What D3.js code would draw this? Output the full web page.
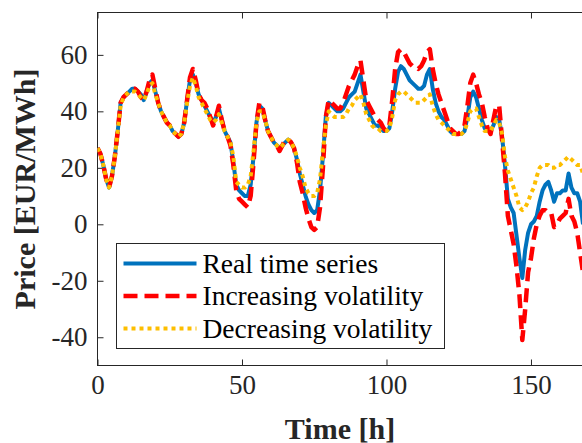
<!DOCTYPE html>
<html>
<head>
<meta charset="utf-8">
<script src="https://cdn.jsdelivr.net/npm/d3@7"></script>
<style>
  body { margin: 0; background: #fff; }
</style>
</head>
<body>
<div id="chart"></div>
<script>
// hourly prices, h = 0..168
const realSeries = [
  27, 25, 21, 16, 13, 17, 24, 33, 43, 45,
  46, 47, 48, 48, 47, 46, 44, 47, 50, 51,
  47, 43, 40, 38, 36, 35, 33, 32, 31, 32,
  36, 44, 51, 53, 50, 46, 44, 42, 40, 38,
  36, 38, 41, 37, 33, 31, 29, 22, 14, 12,
  11, 10, 10, 14, 24, 36, 42, 41, 37, 33,
  31, 29, 28, 27, 28, 29, 30, 29, 27, 23,
  18, 14, 10, 7, 5, 4, 5, 12, 24, 38,
  43, 42, 41, 40, 40, 41, 43, 45, 46, 47,
  50, 53, 47, 41, 39, 37, 35, 35, 34, 33,
  33, 34, 40, 48, 54, 56, 55, 53, 51, 50,
  49, 48, 48, 49, 53, 55, 48, 43, 40, 38,
  37, 35, 33, 32, 32, 32, 32, 33, 38, 45,
  47, 45, 41, 37, 34, 33, 33, 35, 38, 37,
  31, 21, 9, 6, 4, -4, -12, -19, -9, -3,
  0, 1, 3, 8, 12, 14, 15, 12, 8, 11,
  11, 12, 12, 18, 13, 11, 11, 8, 0
];

const increasingVol = [
  27, 25, 21, 16, 13, 17, 24, 33, 43, 45,
  46, 47, 48, 48, 47, 45, 44, 47, 51, 53,
  48, 43, 40, 38, 36, 35, 33, 32, 31, 32,
  36, 44, 52, 55, 51, 46, 44, 43, 41, 38,
  35, 38, 42, 37, 33, 31, 28, 21, 12, 9,
  8, 7, 6, 10, 22, 36, 43, 42, 37, 33,
  31, 29, 28, 26, 28, 30, 30, 29, 27, 22,
  15, 11, 6, 2, -1, -2, -1, 6, 20, 38,
  44, 43, 42, 41, 41, 43, 46, 49, 51, 53,
  56, 58, 51, 44, 42, 40, 38, 37, 36, 34,
  33, 35, 44, 55, 61, 62, 61, 59, 57, 56,
  56, 55, 56, 58, 61, 62, 55, 50, 46, 43,
  40, 37, 34, 33, 32, 32, 33, 35, 42, 50,
  53, 50, 46, 43, 38, 34, 32, 37, 42, 42,
  30, 18, 3, -2, -7, -15, -25, -41, -30, -17,
  -12, -5, 0, 3, 5, 5, 4, 4, -1, 0,
  2, 3, 4, 9, 3, 1, -3, -10, -17
];

const decreasingVol = [
  27, 25, 21, 16, 13, 17, 24, 33, 42, 45,
  46, 47, 47, 47, 46, 45, 44, 46, 49, 50,
  46, 43, 40, 38, 36, 35, 33, 32, 31, 32,
  36, 43, 49, 52, 49, 45, 43, 41, 39, 37,
  36, 37, 39, 36, 33, 31, 29, 24, 15, 14,
  13, 13, 14, 17, 26, 36, 40, 40, 37, 33,
  31, 29, 28, 27, 28, 29, 30, 29, 27, 24,
  20, 17, 13, 11, 10, 10, 11, 16, 26, 35,
  40, 39, 38, 38, 38, 38, 39, 41, 42, 44,
  45, 46, 43, 39, 37, 35, 34, 34, 33, 33,
  33, 34, 38, 44, 46, 47, 47, 46, 45, 44,
  43, 43, 43, 44, 45, 46, 42, 39, 37, 36,
  35, 34, 33, 32, 32, 32, 32, 33, 36, 40,
  41, 41, 38, 35, 33, 33, 33, 35, 37, 36,
  32, 24, 19, 16, 13, 10, 6, 5, 6, 8,
  11, 13, 17, 20, 21, 21, 21, 20, 20, 21,
  21, 22, 23, 24, 23, 22, 21, 21, 18
];

const xTicks = [0, 50, 100, 150];
const yTicks = [-40, -20, 0, 20, 40, 60];
const legendLabels = ["Real time series", "Increasing volatility", "Decreasing volatility"];

const W = 582, H = 443;
const margin = { top: 12, right: 0, bottom: 78, left: 97 };
const width = W - margin.left - margin.right;
const height = H - margin.top - margin.bottom;
const axisColor = "#262626";
const serif = "Liberation Serif";

const x = d3.scaleLinear().domain([0, 168]).range([0, width + 0.5]);
const y = d3.scaleLinear().domain([-50, 75]).range([height, 0]);

const svg = d3.select("#chart").append("svg")
    .attr("width", W)
    .attr("height", H)
    .style("display", "block");

const g = svg.append("g")
    .attr("transform", "translate(" + (margin.left + 0.5) + "," + (margin.top + 0.5) + ")");

g.append("defs").append("clipPath")
    .attr("id", "clip")
    .append("rect")
    .attr("width", width + 1)
    .attr("height", height);

// axes, MATLAB style: ticks inside, box around
const styleAxis = sel => {
    sel.attr("font-family", serif).attr("font-size", 27);
    sel.select(".domain").remove();
    sel.selectAll(".tick line").attr("stroke", axisColor);
    sel.selectAll(".tick text").attr("fill", axisColor);
};

const plain = d => String(d);   // keep "-40" with a plain hyphen

g.append("g")
    .attr("transform", "translate(0," + height + ")")
    .call(d3.axisBottom(x).tickValues(xTicks).tickFormat(plain)
        .tickSizeInner(-6).tickSizeOuter(0).tickPadding(9))
    .call(styleAxis);

g.append("g")
    .call(d3.axisTop(x).tickValues(xTicks).tickSizeInner(-6).tickSizeOuter(0).tickFormat(""))
    .call(styleAxis);

g.append("g")
    .call(d3.axisLeft(y).tickValues(yTicks).tickFormat(plain)
        .tickSizeInner(-6).tickSizeOuter(0).tickPadding(10))
    .call(styleAxis);

g.append("rect")
    .attr("width", width + 0.5)
    .attr("height", height)
    .attr("fill", "none")
    .attr("stroke", axisColor)
    .attr("stroke-width", 1);

// lines
const line = d3.line()
    .x((d, i) => x(i))
    .y(d => y(d));

const series = [
    { values: realSeries, color: "#0072BD", width: 4, dash: null },
    { values: increasingVol, color: "#FF0000", width: 4.5, dash: "14,7" },
    { values: decreasingVol, color: "#FDBE00", width: 4, dash: "4,4" }
];

const plot = g.append("g").attr("clip-path", "url(#clip)");

plot.selectAll(".series")
    .data(series)
    .enter().append("path")
    .attr("class", "series")
    .attr("d", d => line(d.values))
    .attr("fill", "none")
    .attr("stroke", d => d.color)
    .attr("stroke-width", d => d.width)
    .attr("stroke-dasharray", d => d.dash)
    .attr("stroke-linejoin", "round");

// axis titles
g.append("text")
    .attr("x", width / 2)
    .attr("y", height + 73)
    .attr("text-anchor", "middle")
    .attr("font-family", serif)
    .attr("font-weight", "bold")
    .attr("font-size", 30)
    .attr("fill", axisColor)
    .text("Time [h]");

g.append("text")
    .attr("transform", "rotate(-90)")
    .attr("x", -height / 2)
    .attr("y", -62.5)
    .attr("text-anchor", "middle")
    .attr("font-family", serif)
    .attr("font-weight", "bold")
    .attr("font-size", 30)
    .attr("fill", axisColor)
    .text("Price [EUR/MWh]");

// legend
const legend = svg.append("g")
    .attr("transform", "translate(116.5,243.5)");

legend.append("rect")
    .attr("width", 328)
    .attr("height", 105)
    .attr("fill", "#fff")
    .attr("stroke", axisColor);

const rows = legend.selectAll(".row")
    .data(series)
    .enter().append("g")
    .attr("class", "row")
    .attr("transform", (d, i) => "translate(0," + (20 + i * 32.5) + ")");

rows.append("line")
    .attr("x1", 7)
    .attr("x2", 80)
    .attr("stroke", d => d.color)
    .attr("stroke-width", d => d.width)
    .attr("stroke-dasharray", d => d.dash);

rows.append("text")
    .attr("x", 86)
    .attr("dy", "0.33em")
    .attr("font-family", serif)
    .attr("font-size", 27.5)
    .attr("fill", "#000")
    .text((d, i) => legendLabels[i]);
</script>
</body>
</html>
